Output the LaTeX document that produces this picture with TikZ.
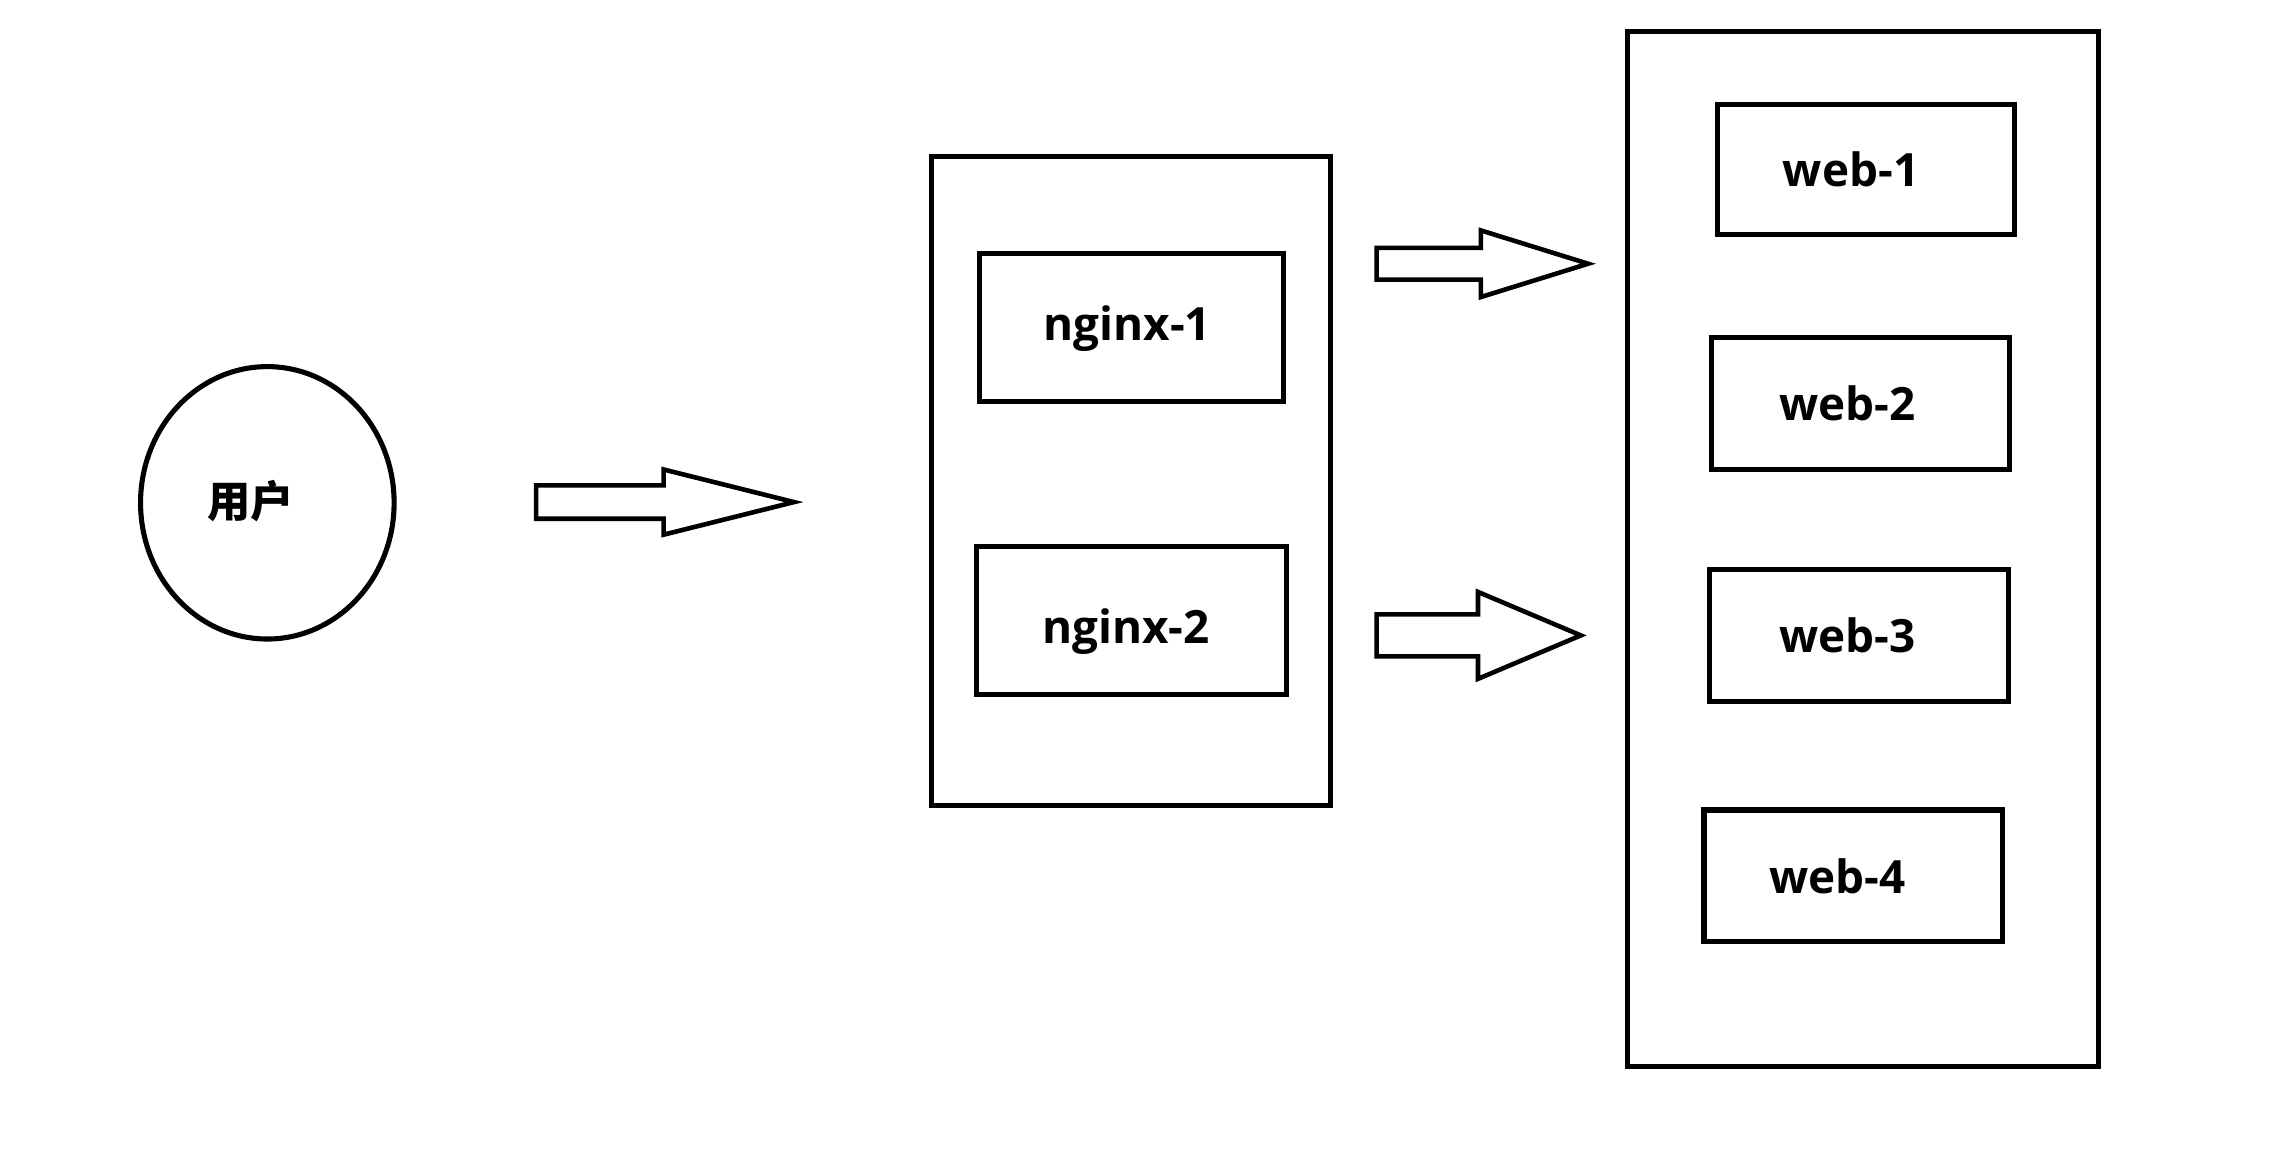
\documentclass[tikz,border=0pt]{standalone}
\usepackage{fontspec}
\newfontfamily\boxfont{Open Sans}
\newfontfamily\cjkfont{Noto Sans CJK SC}
\usetikzlibrary{shapes.geometric}

\tikzset{
    grp/.style={draw, line width=1pt, minimum width=#1, inner sep=0pt},
    srv/.style={draw, line width=1pt, inner sep=0pt},
    txt/.style={font=\boxfont\bfseries\fontsize{9}{11}\selectfont, inner sep=0pt},
    fatline/.style={draw, line width=0.9pt, line join=miter},
}

\begin{document}
\begin{tikzpicture}
    \useasboundingbox (0,0) rectangle (15.68,-7.93);

    % user
    \node[draw, ellipse, line width=1pt, minimum width=1.75cm, minimum height=1.88cm] (user) at (1.845,-3.47) {};
    \node[font=\cjkfont\bfseries\fontsize{8.5}{10}\selectfont, inner sep=0pt] (usertxt) at (1.73,-3.46) {用户};

    % nginx group
    \node[grp=2.75cm, minimum height=4.48cm] (nginxgrp) at (7.805,-3.32) {};
    \node[srv, minimum width=2.10cm, minimum height=1.02cm, label={[txt, xshift=-0.03cm, yshift=-0.01cm]center:nginx-1}] (nginx1) at (7.81,-2.26) {};
    \node[srv, minimum width=2.14cm, minimum height=1.02cm, label={[txt, xshift=-0.04cm, yshift=-0.08cm]center:nginx-2}] (nginx2) at (7.81,-4.28) {};

    % web group
    \node[grp=3.25cm, minimum height=7.14cm] (webgrp) at (12.855,-3.79) {};
    \node[srv, minimum width=2.05cm, minimum height=0.90cm, label={[txt, xshift=-0.10cm]center:web-1}] (web1) at (12.875,-1.17) {};
    \node[srv, minimum width=2.06cm, minimum height=0.91cm, label={[txt, xshift=-0.09cm]center:web-2}] (web2) at (12.84,-2.785) {};
    \node[srv, minimum width=2.06cm, minimum height=0.91cm, label={[txt, xshift=-0.08cm]center:web-3}] (web3) at (12.83,-4.385) {};
    \node[srv, minimum width=2.06cm, minimum height=0.91cm, label={[txt, xshift=-0.11cm]center:web-4}] (web4) at (12.79,-6.045) {};

    % block arrows
    \coordinate (a1) at (3.70,-3.465);
    \coordinate (a2) at (9.50,-1.82);
    \coordinate (a3) at (9.50,-4.385);
    \draw[fatline] (a1) ++(0,0.115) -- ++(0.88,0) -- ++(0,0.11) -- ++(0.90,-0.225) -- ++(-0.90,-0.225) -- ++(0,0.11) -- ++(-0.88,0) -- cycle;
    \draw[fatline] (a2) ++(0,0.11) -- ++(0.72,0) -- ++(0,0.12) -- ++(0.74,-0.23) -- ++(-0.74,-0.23) -- ++(0,0.12) -- ++(-0.72,0) -- cycle;
    \draw[fatline] (a3) ++(0,0.145) -- ++(0.70,0) -- ++(0,0.155) -- ++(0.71,-0.30) -- ++(-0.71,-0.30) -- ++(0,0.155) -- ++(-0.70,0) -- cycle;
\end{tikzpicture}
\end{document}
